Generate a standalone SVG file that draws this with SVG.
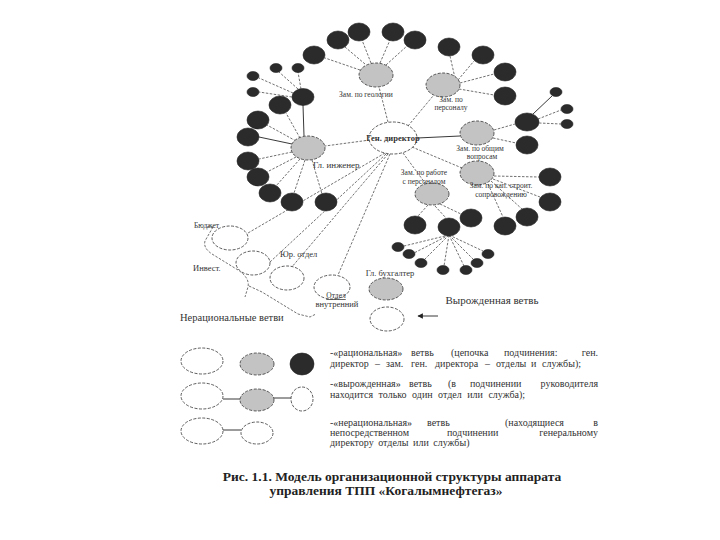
<svg xmlns="http://www.w3.org/2000/svg" width="720" height="540" viewBox="0 0 720 540">
<style>
.dk{fill:#2b2b2b;stroke:#222;stroke-width:0.6}
.gr{fill:#c3c3c3;stroke:#333;stroke-width:0.8;stroke-dasharray:3 1.5}
.wh{fill:#fff;stroke:#333;stroke-width:0.8;stroke-dasharray:3 1.5}
.dl{fill:none;stroke:#333;stroke-width:0.7;stroke-dasharray:2.5 1.5}
.sl{fill:none;stroke:#222;stroke-width:0.9}
text{font-family:"Liberation Serif","DejaVu Serif",serif;fill:#333}
.lb{font-size:7.5px}
.lb2{font-size:8.5px}
.lg{font-size:10px}
.cap{font-size:13.5px;font-weight:bold;fill:#222}
</style>
<defs>
<marker id="ah" viewBox="0 0 10 10" refX="9" refY="5" markerWidth="6" markerHeight="6" orient="auto"><path d="M0,0 L10,5 L0,10 z" fill="#222"/></marker>
</defs>
<rect width="720" height="540" fill="#fff"/>
<g id="connectors">
<path class="dl" d="M388,122 L379,87"/>
<path class="dl" d="M408,126 L433,96"/>
<path class="sl" d="M417,138 L460,136"/>
<path class="dl" d="M412,147 L462,168"/>
<path class="dl" d="M403,153 L425,183"/>
<path class="dl" d="M370,140 L325,146"/>
<path class="dl" d="M385,153 L248,233"/>
<path class="dl" d="M386,154 L270,262"/>
<path class="dl" d="M388,154 L291,268"/>
<path class="dl" d="M390,154 L338,275"/>
<path class="sl" d="M303,105 L304,136"/>
<path class="dl" d="M300,138 L286,113"/>
<path class="dl" d="M296,141 L267,125"/>
<path class="sl" d="M292,144 L259,137"/>
<path class="dl" d="M292,152 L259,159"/>
<path class="dl" d="M296,157 L267,172"/>
<path class="dl" d="M300,159 L276,186"/>
<path class="dl" d="M305,160 L294,193"/>
<path class="dl" d="M312,160 L322,194"/>
<path class="dl" d="M293,93 L259,78"/>
<path class="dl" d="M298,89 L279,72"/>
<path class="dl" d="M301,89 L298,72"/>
<path class="dl" d="M292,97 L259,92"/>
<path class="dl" d="M360,70 L325,58"/>
<path class="dl" d="M365,64 L345,47"/>
<path class="dl" d="M371,63 L362,40"/>
<path class="dl" d="M380,63 L390,40"/>
<path class="dl" d="M386,65 L407,46"/>
<path class="dl" d="M455,78 L450,56"/>
<path class="dl" d="M458,80 L474,61"/>
<path class="dl" d="M460,83 L494,74"/>
<path class="dl" d="M459,89 L494,95"/>
<path class="dl" d="M494,130 L515,124"/>
<path class="dl" d="M493,138 L516,143"/>
<path class="sl" d="M533,114 L552,96"/>
<path class="dl" d="M538,119 L561,110"/>
<path class="dl" d="M539,123 L561,124"/>
<path class="dl" d="M494,176 L539,177"/>
<path class="dl" d="M493,179 L540,197"/>
<path class="dl" d="M491,181 L522,209"/>
<path class="dl" d="M488,184 L503,217"/>
<path class="dl" d="M428,205 L418,216"/>
<path class="dl" d="M435,206 L446,218"/>
<path class="dl" d="M440,204 L461,214"/>
<path class="dl" d="M449,235 L404,246 M449,235 L414,253 M449,235 L424,260 M449,235 L444,266 M449,235 L464,266 M449,235 L474,260 M449,235 L483,251"/>
<path class="dl" d="M207,227 L213,227 M213,227 L205,241 Q203,248 212,254 L238,270 Q250,278 248,287 L245,297 M249,286 L262,292 L298,314 L310,317 L316,314"/>
<path class="sl" d="M438,316 L418,316" marker-end="url(#ah)"/>
<path class="sl" d="M223,399 L240,399 M273,398 L291,398 M223,430 L241,430"/>
</g>
<g id="n-gendir"><ellipse class="wh" cx="393" cy="138" rx="24" ry="16"/><text x="393" y="141" text-anchor="middle" style="font-size:8.5px;font-weight:bold">Ген. директор</text></g>
<g id="n-zam-top"><ellipse class="gr" cx="376" cy="75" rx="17" ry="12"/><text class="lb" x="366" y="97" text-anchor="middle">Зам. по геологии</text></g>
<g id="n-zam-top-kids">
<ellipse class="dk" cx="314" cy="55" rx="11" ry="9"/><ellipse class="dk" cx="338" cy="40" rx="11" ry="9"/><ellipse class="dk" cx="359" cy="32" rx="11" ry="9"/><ellipse class="dk" cx="393" cy="32" rx="11" ry="9"/><ellipse class="dk" cx="415" cy="40" rx="11" ry="9"/>
</g>
<g id="n-zam-pers"><ellipse class="gr" cx="443" cy="85" rx="17" ry="12"/><text class="lb" x="451" y="102" text-anchor="middle">Зам. по</text><text class="lb" x="451" y="110" text-anchor="middle">персоналу</text></g>
<g id="n-zam-pers-kids">
<ellipse class="dk" cx="449" cy="47" rx="11" ry="9"/><ellipse class="dk" cx="483" cy="55" rx="11" ry="9"/><ellipse class="dk" cx="505" cy="72" rx="11" ry="9"/><ellipse class="dk" cx="505" cy="96" rx="11" ry="9"/>
</g>
<g id="n-zam-obsh"><ellipse class="gr" cx="477" cy="133" rx="17" ry="12"/><text class="lb" x="480" y="150.5" text-anchor="middle">Зам. по общим</text><text class="lb" x="482" y="159" text-anchor="middle">вопросам</text></g>
<g id="n-zam-obsh-kids">
<ellipse class="dk" cx="527" cy="122" rx="12" ry="9"/><ellipse class="dk" cx="527" cy="145" rx="11" ry="9"/>
<ellipse class="dk" cx="556" cy="92" rx="6" ry="4.5"/><ellipse class="dk" cx="567" cy="109" rx="6" ry="4.5"/><ellipse class="dk" cx="567" cy="124" rx="6" ry="4.5"/>
</g>
<g id="n-zam-kap"><ellipse class="gr" cx="477" cy="173" rx="17" ry="12"/><text class="lb" x="501" y="188" text-anchor="middle">Зам. по кап. строит.</text><text class="lb" x="501" y="196.5" text-anchor="middle">сопровождению</text></g>
<g id="n-zam-kap-kids">
<ellipse class="dk" cx="550" cy="177" rx="11" ry="9"/><ellipse class="dk" cx="550" cy="202" rx="11" ry="9"/><ellipse class="dk" cx="527" cy="217" rx="11" ry="9"/><ellipse class="dk" cx="505" cy="226" rx="11" ry="9"/>
</g>
<g id="n-zam-rab"><ellipse class="gr" cx="432" cy="194" rx="17" ry="11"/><text class="lb" x="424" y="175" text-anchor="middle">Зам. по работе</text><text class="lb" x="424" y="183.5" text-anchor="middle">с персоналом</text></g>
<g id="n-zam-rab-kids">
<ellipse class="dk" cx="415" cy="225" rx="11" ry="9"/><ellipse class="dk" cx="449" cy="227" rx="11" ry="9"/><ellipse class="dk" cx="471" cy="218" rx="11" ry="9"/>
<ellipse class="dk" cx="398" cy="247" rx="6" ry="4.5"/><ellipse class="dk" cx="409" cy="254" rx="6" ry="4.5"/><ellipse class="dk" cx="421" cy="263" rx="6" ry="4.5"/><ellipse class="dk" cx="443" cy="270" rx="6" ry="4.5"/><ellipse class="dk" cx="466" cy="270" rx="6" ry="4.5"/><ellipse class="dk" cx="477" cy="263" rx="6" ry="4.5"/><ellipse class="dk" cx="488" cy="254" rx="6" ry="4.5"/>
</g>
<g id="n-glinzh"><ellipse class="gr" cx="308" cy="148" rx="17" ry="12"/><text x="313" y="168" style="font-size:9px">Гл. инженер</text></g>
<g id="n-glinzh-kids">
<ellipse class="dk" cx="303" cy="97" rx="11" ry="8.5"/>
<ellipse class="dk" cx="253" cy="76" rx="6" ry="4.5"/><ellipse class="dk" cx="276" cy="68" rx="6" ry="4.5"/><ellipse class="dk" cx="298" cy="68" rx="6" ry="4.5"/><ellipse class="dk" cx="253" cy="92" rx="6" ry="4.5"/>
<ellipse class="dk" cx="280" cy="105" rx="11" ry="9"/><ellipse class="dk" cx="258" cy="120" rx="11" ry="9"/><ellipse class="dk" cx="248" cy="137" rx="11" ry="9"/><ellipse class="dk" cx="248" cy="161" rx="11" ry="9"/><ellipse class="dk" cx="258" cy="177" rx="11" ry="9"/><ellipse class="dk" cx="270" cy="193" rx="11" ry="9"/><ellipse class="dk" cx="292" cy="202" rx="11" ry="9"/><ellipse class="dk" cx="326" cy="202" rx="11" ry="9"/>
</g>
<g id="n-budget"><ellipse class="wh" cx="230" cy="238" rx="18" ry="12"/><text class="lb" x="194" y="228">Бюджет</text></g>
<g id="n-invest"><ellipse class="wh" cx="253" cy="263" rx="17" ry="12"/><text x="193" y="271" style="font-size:8.5px">Инвест.</text></g>
<g id="n-yur"><ellipse class="wh" cx="287" cy="278" rx="17" ry="12"/><text class="lb2" x="280" y="257">Юр. отдел</text></g>
<g id="n-otdel"><ellipse class="wh" cx="332" cy="287" rx="18" ry="12"/><text class="lb" x="336" y="298" text-anchor="middle" text-decoration="underline">Отдел</text><text class="lb2" x="337" y="307" text-anchor="middle">внутренний</text></g>
<g id="n-glbuh"><ellipse class="gr" cx="386" cy="289" rx="17" ry="11"/><text class="lb2" x="390" y="276" text-anchor="middle">Гл. бухгалтер</text></g>
<g id="n-white-deg"><ellipse class="wh" cx="387" cy="319" rx="17" ry="12"/></g>
<text x="492" y="304" text-anchor="middle" style="font-size:11px">Вырожденная ветвь</text>
<text x="180" y="321" style="font-size:10.5px">Нерациональные ветви</text>
<g id="legend">
<ellipse class="wh" cx="202" cy="361" rx="21" ry="13"/><ellipse class="gr" cx="257" cy="364" rx="17" ry="11"/><ellipse class="dk" cx="302" cy="364" rx="12" ry="11"/>
<ellipse class="wh" cx="202" cy="396" rx="21" ry="13"/><ellipse class="gr" cx="257" cy="400" rx="17" ry="11"/><ellipse class="wh" cx="302" cy="399" rx="11" ry="12"/>
<ellipse class="wh" cx="202" cy="431" rx="21" ry="13"/><ellipse class="wh" cx="257" cy="433" rx="16" ry="11"/>
<text class="lg" y="356"><tspan x="330">-«рациональная»</tspan><tspan x="411">ветвь</tspan><tspan x="451">(цепочка</tspan><tspan x="504">подчинения:</tspan><tspan x="598" text-anchor="end">ген.</tspan></text>
<text class="lg" y="367"><tspan x="330">директор</tspan><tspan x="375">–</tspan><tspan x="386">зам.</tspan><tspan x="411">ген.</tspan><tspan x="435">директора</tspan><tspan x="485">–</tspan><tspan x="496">отделы</tspan><tspan x="531">и</tspan><tspan x="542">службы);</tspan></text>
<text class="lg" y="387"><tspan x="330">-«вырожденная»</tspan><tspan x="409">ветвь</tspan><tspan x="448">(в</tspan><tspan x="470">подчинении</tspan><tspan x="598" text-anchor="end">руководителя</tspan></text>
<text class="lg" x="330" y="398" style="word-spacing:3px">находится только один отдел или служба);</text>
<text class="lg" y="426"><tspan x="330">-«нерациональная»</tspan><tspan x="427">ветвь</tspan><tspan x="505">(находящиеся</tspan><tspan x="598" text-anchor="end">в</tspan></text>
<text class="lg" y="436"><tspan x="330">непосредственном</tspan><tspan x="447">подчинении</tspan><tspan x="598" text-anchor="end">генеральному</tspan></text>
<text class="lg" x="330" y="446" style="word-spacing:2px">директору отделы или службы)</text>
</g>
<text class="cap" x="392" y="481" text-anchor="middle">Рис. 1.1. Модель организационной структуры аппарата</text>
<text class="cap" x="386" y="495" text-anchor="middle">управления ТПП «Когалымнефтегаз»</text>
</svg>
